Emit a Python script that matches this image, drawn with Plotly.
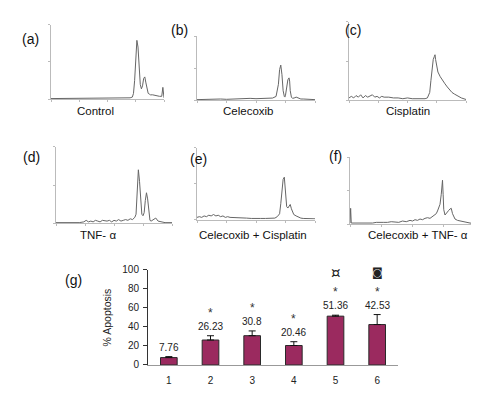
import plotly.graph_objects as go

# ---------------- histogram data (fraction of channel range, % of axis height) -------------
a_x = [0.00,0.04,0.08,0.12,0.16,0.20,0.24,0.28,0.32,0.36,0.40,0.44,0.48,0.52,0.56,0.60,0.64,0.68,
       0.70,0.72,0.73,0.74,0.75,0.76,0.77,0.78,0.79,0.80,0.81,0.82,0.83,0.84,0.85,0.86,0.87,0.88,
       0.90,0.92,0.94,0.96,0.98,0.99,1.00]
a_y = [1,1,1.5,1,1,1.5,1,1,1.5,1,1,1.5,1,1,1.5,1,1.5,1,
       2,3,8,25,55,79,70,40,20,14,18,28,30,22,12,8,7,6,
       6,5,5,4,4,16,2]

b_x = [0.00,0.05,0.10,0.15,0.20,0.25,0.30,0.35,0.40,0.45,0.50,0.55,0.60,0.64,0.67,0.69,0.70,0.71,
       0.72,0.73,0.74,0.745,0.75,0.76,0.77,0.78,0.785,0.79,0.80,0.81,0.82,0.83,0.84,0.85,0.86,0.88,
       0.90,0.93,0.96,1.00]
b_y = [1,1.5,1,1.5,2,1.5,2,2.5,2,3,2.5,3,3,3.5,6,25,48,55,
       40,15,6,5,8,20,32,35,30,15,5,3,3,4,5,4,3,2,
       2,1.5,1,1]

c_x = [0.00,0.02,0.04,0.06,0.08,0.10,0.12,0.14,0.16,0.18,0.20,0.22,0.24,0.26,0.28,0.30,
       0.34,0.38,0.42,0.46,0.50,0.54,0.58,0.62,0.65,0.67,0.69,0.70,0.71,0.72,0.73,0.735,0.74,0.75,
       0.76,0.78,0.80,0.82,0.84,0.86,0.88,0.90,0.93,0.96,1.00]
c_y = [3,5,3,6,4,7,3,6,4,5,7,4,5,3,5,4,
       4,3,3,2,3,2,2,2,2,3,10,25,40,52,56,58,52,42,
       36,30,25,21,17,13,10,8,5,3,1]

d_x = [0.00,0.05,0.10,0.15,0.20,0.24,0.26,0.28,0.30,0.32,0.34,0.36,0.38,0.40,0.42,0.44,0.46,0.48,
       0.50,0.52,0.54,0.56,0.58,0.60,0.62,0.64,0.66,0.68,0.69,0.70,0.71,0.72,0.73,0.74,0.75,0.76,
       0.77,0.78,0.79,0.80,0.81,0.82,0.84,0.86,0.88,0.90,0.94,1.00]
d_y = [1,1,1,1.5,1,2,4,2,3,2,4,3,2,4,3,3,4,2,
       4,3,5,3,4,5,4,6,5,8,12,35,70,55,25,12,10,14,
       30,40,32,12,4,3,5,7,3,2,1,1]

e_x = [0.00,0.02,0.04,0.06,0.08,0.10,0.12,0.14,0.16,0.18,0.20,0.22,0.24,0.26,0.28,0.30,
       0.34,0.38,0.42,0.46,0.50,0.54,0.58,0.62,0.66,0.68,0.70,0.71,0.72,0.73,0.74,0.75,0.76,
       0.77,0.78,0.79,0.80,0.81,0.82,0.84,0.86,0.88,0.90,0.94,1.00]
e_y = [3,4,3,5,4,6,5,7,5,6,4,5,3,4,3,3,
       2.5,2,2,1.5,2,1.5,1.5,2,2,4,8,22,42,56,59,40,18,
       16,19,21,15,10,7,5,3,2,1.5,1,1]

f_x = [0.00,0.005,0.01,0.03,0.06,0.09,0.12,0.15,0.18,0.21,0.24,0.27,0.30,0.33,0.36,0.39,0.42,0.45,0.48,
       0.50,0.52,0.54,0.56,0.58,0.60,0.62,0.64,0.66,0.68,0.69,0.70,0.71,0.72,0.73,
       0.735,0.74,0.745,0.75,0.76,0.77,0.78,0.79,0.80,0.81,0.82,0.84,0.86,0.88,0.90,0.93,0.96,1.00]
f_y = [2,24,2,2,1.5,2,2,2.5,2,3,2.5,3,3,4,3.5,3,5,4,6,
       5,7,6,8,7,9,10,9,12,14,16,20,24,30,45,
       60,66,45,22,14,17,20,21,23,24,16,8,6,5,5,3,2,1]

panel_letters = ["(a)", "(b)", "(c)", "(d)", "(e)", "(f)"]
panel_names = ["Control", "Celecoxib", "Cisplatin", "TNF- α", "Celecoxib + Cisplatin", "Celecoxib + TNF- α"]

# ---------------- bar chart data -------------
groups = [1, 2, 3, 4, 5, 6]
apoptosis = [7.76, 26.23, 30.8, 20.46, 51.36, 42.53]
apoptosis_err = [1.0, 4.5, 5.0, 4.0, 1.0, 10.5]
value_labels = ["7.76", "26.23", "30.8", "20.46", "51.36", "42.53"]
star_marks = ["", "*", "*", "*", "*", "*"]
extra_marks = ["", "", "", "", "¤", "◙"]
y_ticks = [0, 20, 40, 60, 80, 100]

W, H = 479, 393
FONT = "Liberation Sans, Arial, sans-serif"


def px_dom_x(x0, x1):
    return [x0 / W, x1 / W]


def px_dom_y(top, bottom):
    return [1 - bottom / H, 1 - top / H]


# panel boxes in pixels: (left, right, top, bottom)
boxes = [(43, 156, 11, 88), (189, 307, 23, 89), (341, 458, 8, 89),
         (48, 164, 137, 216), (189, 307, 138, 212), (342, 467, 148, 217)]
letter_pos = [(22, 26), (171, 17), (345, 17), (23, 147), (190, 150), (327, 146)]
name_pos = [(87, 100), (240, 100), (400, 100), (90, 228), (245, 228), (410, 228)]

hist = [(a_x, a_y), (b_x, b_y), (c_x, c_y), (d_x, d_y), (e_x, e_y), (f_x, f_y)]

fig = go.Figure()
layout = dict(width=W, height=H, margin=dict(l=0, r=0, t=0, b=0),
              paper_bgcolor="white", plot_bgcolor="white", showlegend=False,
              font=dict(family=FONT, color="#222"))
annotations = []

for i, ((hx, hy), box) in enumerate(zip(hist, boxes)):
    n = i + 1
    xa = "x" if n == 1 else f"x{n}"
    ya = "y" if n == 1 else f"y{n}"
    fig.add_trace(go.Scatter(x=hx, y=hy, mode="lines", xaxis=xa, yaxis=ya,
                             line=dict(color="#666", width=1), hoverinfo="skip"))
    axcommon = dict(showline=True, linecolor="#bbb", linewidth=1, ticks="outside", ticklen=2,
                    tickcolor="#bbb", showticklabels=False, showgrid=False, zeroline=False)
    layout[f"xaxis{'' if n == 1 else n}"] = dict(domain=px_dom_x(box[0], box[1]), range=[0, 1],
                                                 anchor=ya, tickvals=[0, 0.25, 0.5, 0.75, 1], **axcommon)
    layout[f"yaxis{'' if n == 1 else n}"] = dict(domain=px_dom_y(box[2], box[3]), range=[0, 100],
                                                 anchor=xa, tickvals=[0, 50, 100], **axcommon)
    lx, ly = letter_pos[i]
    annotations.append(dict(text=panel_letters[i], x=lx / W, y=1 - ly / H, xref="paper", yref="paper",
                            showarrow=False, font=dict(size=14, color="#111"), xanchor="center", yanchor="middle"))
    nx, ny = name_pos[i]
    annotations.append(dict(text=panel_names[i], x=nx / W, y=1 - ny / H, xref="paper", yref="paper",
                            showarrow=False, font=dict(size=11.5, color="#111"), xanchor="center", yanchor="middle"))

# bar chart (g)
fig.add_trace(go.Bar(x=groups, y=apoptosis, width=0.4, xaxis="x7", yaxis="y7",
                     marker=dict(color="#9B2A5F", line=dict(color="#2a2a2a", width=1)),
                     error_y=dict(type="data", array=apoptosis_err, arrayminus=[0] * 6, symmetric=False,
                                  color="#111", thickness=1, width=3.5),
                     hoverinfo="skip"))
layout["xaxis7"] = dict(domain=px_dom_x(140, 390), range=[0.5, 6.5], anchor="y7",
                        tickvals=groups, ticktext=[str(g) for g in groups], showline=True,
                        linecolor="#999", linewidth=1, ticks="", showgrid=False, zeroline=False,
                        tickfont=dict(size=10, color="#222"), ticklabelstandoff=6)
layout["yaxis7"] = dict(domain=px_dom_y(264, 362), range=[0, 100], anchor="x7",
                        tickvals=y_ticks, showline=True, linecolor="#333", linewidth=1,
                        ticks="outside", ticklen=4, tickcolor="#333", showgrid=False, zeroline=False,
                        tickfont=dict(size=10, color="#222"), ticklabelstandoff=2)

mark_sizes = {"¤": 15, "◙": 11}
for g, v, e, lab, st, ex in zip(groups, apoptosis, apoptosis_err, value_labels, star_marks, extra_marks):
    top = v + e
    annotations.append(dict(text=lab, x=g, y=top + 10, xref="x7", yref="y7", showarrow=False,
                            font=dict(size=10, color="#222"), xanchor="center", yanchor="middle"))
    if st:
        annotations.append(dict(text=st, x=g, y=top + 24, xref="x7", yref="y7", showarrow=False,
                                font=dict(size=12, color="#333"), xanchor="center", yanchor="middle"))
    if ex:
        annotations.append(dict(text=ex, x=g, y=97, xref="x7", yref="y7", showarrow=False,
                                font=dict(size=mark_sizes[ex], color="#222", family="DejaVu Sans"),
                                xanchor="center", yanchor="middle"))

annotations.append(dict(text="(g)", x=65 / W, y=1 - 274 / H, xref="paper", yref="paper", showarrow=False,
                        font=dict(size=14, color="#111"), xanchor="center", yanchor="middle"))
annotations.append(dict(text="% Apoptosis", x=99 / W, y=1 - 313 / H, xref="paper", yref="paper",
                        showarrow=False, textangle=-90, font=dict(size=10.5, color="#222"),
                        xanchor="center", yanchor="middle"))

layout["annotations"] = annotations
fig.update_layout(**layout)
fig.write_html("out.html")
